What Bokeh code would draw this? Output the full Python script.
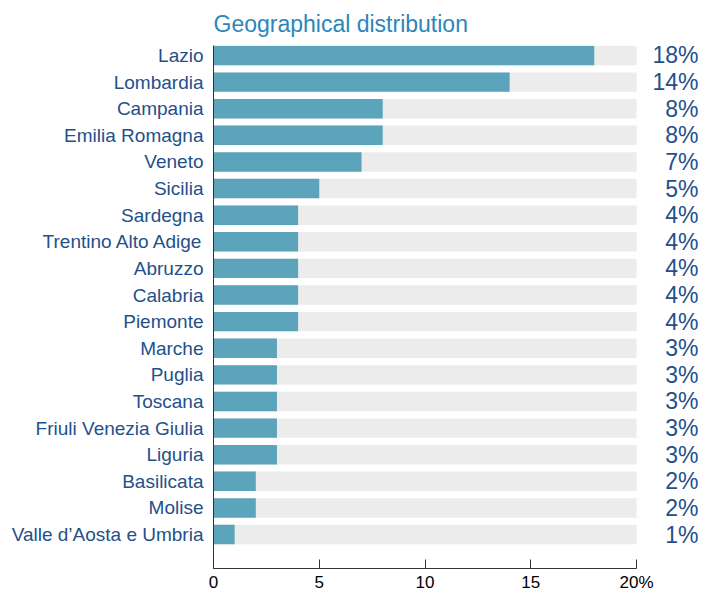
from bokeh.plotting import figure
from bokeh.models import Range1d, FixedTicker, ColumnDataSource
from bokeh.core.properties import value
from bokeh.embed import file_html
from bokeh.resources import INLINE

regions = ["Lazio", "Lombardia", "Campania", "Emilia Romagna", "Veneto", "Sicilia",
           "Sardegna", "Trentino Alto Adige", "Abruzzo", "Calabria", "Piemonte",
           "Marche", "Puglia", "Toscana", "Friuli Venezia Giulia", "Liguria",
           "Basilicata", "Molise", "Valle d\u2019Aosta e Umbria"]
shares = [18, 14, 8, 8, 7, 5, 4, 4, 4, 4, 4, 3, 3, 3, 3, 3, 2, 2, 1]
x_ticks = [0, 5, 10, 15, 20]
x_tick_labels = ["0", "5", "10", "15", "20%"]
full_scale = 20

FONT = "Liberation Sans"
TEAL = "#5ba4bc"
GRAY = "#ebeceb"
NAVY = "#24508a"
TITLE = "#2c86b9"

n = len(regions)
ypos = [n - 1 - i for i in range(n)]
x_end = 23.07
src = ColumnDataSource(dict(
    y=ypos, share=shares, full=[full_scale] * n,
    label=[f"{s}%" for s in shares],
    lx=[x_end] * n,
))

p = figure(width=701, height=594, output_backend="svg", toolbar_location=None,
           x_range=Range1d(0, x_end), y_range=Range1d(-1.275, n - 1 + 0.375),
           min_border_left=213, min_border_right=0, min_border_top=45,
           min_border_bottom=25, title="Geographical distribution")
p.outline_line_color = None
p.background_fill_color = "white"
p.border_fill_color = "white"
p.xgrid.visible = False
p.ygrid.visible = False

p.title.text_font = FONT
p.title.text_font_size = "23px"
p.title.text_font_style = "normal"
p.title.text_color = TITLE
p.title.align = "left"
p.title.offset = 0
p.title.standoff = 17

p.hbar(y="y", left=0, right="full", height=0.73, source=src,
       fill_color=GRAY, line_color=None)
p.hbar(y="y", left=0, right="share", height=0.73, source=src,
       fill_color=TEAL, line_color=None)
p.text(x="lx", y="y", text="label", source=src, text_align="right",
       text_baseline="middle", text_font=value(FONT), text_font_size="23px",
       text_color=NAVY, x_offset=-3)

xa = p.xaxis[0]
xa.ticker = FixedTicker(ticks=x_ticks)
xa.major_label_overrides = {t: l for t, l in zip(x_ticks, x_tick_labels)}
xa.bounds = (0, full_scale)
xa.major_tick_in = 9
xa.major_tick_out = 0
xa.minor_tick_line_color = None
xa.axis_line_color = "#333333"
xa.major_tick_line_color = "#333333"
xa.major_label_text_font = FONT
xa.major_label_text_font_size = "17px"
xa.major_label_text_color = "black"
xa.major_label_standoff = 4

ya = p.yaxis[0]
ya.ticker = FixedTicker(ticks=ypos)
ya.major_label_overrides = {y: r for y, r in zip(ypos, regions)}
ya.major_tick_in = 0
ya.major_tick_out = 0
ya.minor_tick_line_color = None
ya.axis_line_color = "#333333"
ya.major_label_text_font = FONT
ya.major_label_text_font_size = "19px"
ya.major_label_text_color = NAVY
ya.major_label_standoff = 10

open("out.html", "w").write(file_html(p, INLINE))
